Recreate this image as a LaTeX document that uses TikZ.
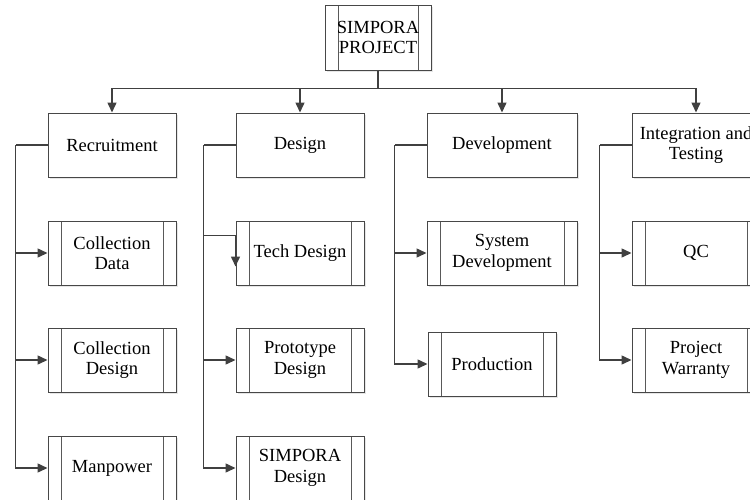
\documentclass[tikz,border=0pt]{standalone}
\usepackage{fontspec}
\setmainfont{Liberation Serif}
\usepackage{tikz}
\usetikzlibrary{arrows.meta,shadows}
\tikzset{>={Triangle[width=9pt,length=10pt]}}
\tikzset{
  task/.style={draw=black!72, line width=1pt, fill=white,
    minimum width=128pt, minimum height=64pt, align=center, inner sep=2pt,
    font=\fontsize{18.5}{20.5}\selectfont,
    drop shadow={shadow xshift=1.5pt, shadow yshift=-1.5pt, opacity=0.2}},
  subtask/.style={task, path picture={
    \draw[black!65, line width=1pt]
      ([xshift=13pt]path picture bounding box.north west) -- ([xshift=13pt]path picture bounding box.south west)
      ([xshift=-13pt]path picture bounding box.north east) -- ([xshift=-13pt]path picture bounding box.south east);}},
  link/.style={draw=black!75, line width=1.5pt}
}

\begin{document}
\begin{tikzpicture}[x=1pt, y=-1pt]

  \newcommand\gap{32}
  \useasboundingbox (0,0) rectangle (750,499);
  \clip (0,0) rectangle (750,499);

  % project
  \node[subtask, minimum width=106pt, minimum height=65pt] (root) at (378,37.5) {SIMPORA\\PROJECT};

  % phases
  \node[task] (rec) at (112,145) {Recruitment};
  \node[task] (des) at (300,145) {Design};
  \node[task, minimum width=150pt] (dev) at (502,145) {Development};
  \node[task] (integ) at (696,145) {Integration and\\Testing};

  % recruitment
  \node[subtask] (cdata) at (112,253) {Collection\\Data};
  \node[subtask] (cdes) at (112,360) {Collection\\Design};
  \node[subtask] (manp) at (112,468) {Manpower};

  % design
  \node[subtask] (tech) at (300,253) {Tech Design};
  \node[subtask] (proto) at (300,360) {Prototype\\Design};
  \node[subtask] (sdes) at (300,468) {SIMPORA\\Design};

  % development
  \node[subtask, minimum width=150pt] (sysdev) at (502,253) {System\\Development};
  \node[subtask] (prod) at (492,364) {Production};

  % integration
  \node[subtask] (qc) at (696,253) {QC};
  \node[subtask] (warr) at (696,360) {Project\\Warranty};

  % project -> phases
  \draw[link] (root.south) -- ++(0,18) coordinate (hub);
  \foreach \n in {rec,des,dev,integ}
    \draw[link,->] (hub) -| (\n.north);

  % phase -> tasks
  \draw[link] (rec.west) -- ++(-\gap,0) coordinate (recbus);
  \foreach \n in {cdata,cdes,manp}
    \draw[link,->] (recbus) |- (\n.west);

  \draw[link] (des.west) -- ++(-\gap,0) coordinate (desbus);
  \draw[link,->] (desbus) |- ([yshift=-15pt]tech.north west) -- ([yshift=-46pt]tech.north west); % tech
  \foreach \n in {proto,sdes}
    \draw[link,->] (desbus) |- (\n.west);

  \draw[link] (dev.west) -- ++(-\gap,0) coordinate (devbus);
  \foreach \n in {sysdev,prod}
    \draw[link,->] (devbus) |- (\n.west);

  \draw[link] (integ.west) -- ++(-\gap,0) coordinate (intbus);
  \foreach \n in {qc,warr}
    \draw[link,->] (intbus) |- (\n.west);

\end{tikzpicture}
\end{document}
